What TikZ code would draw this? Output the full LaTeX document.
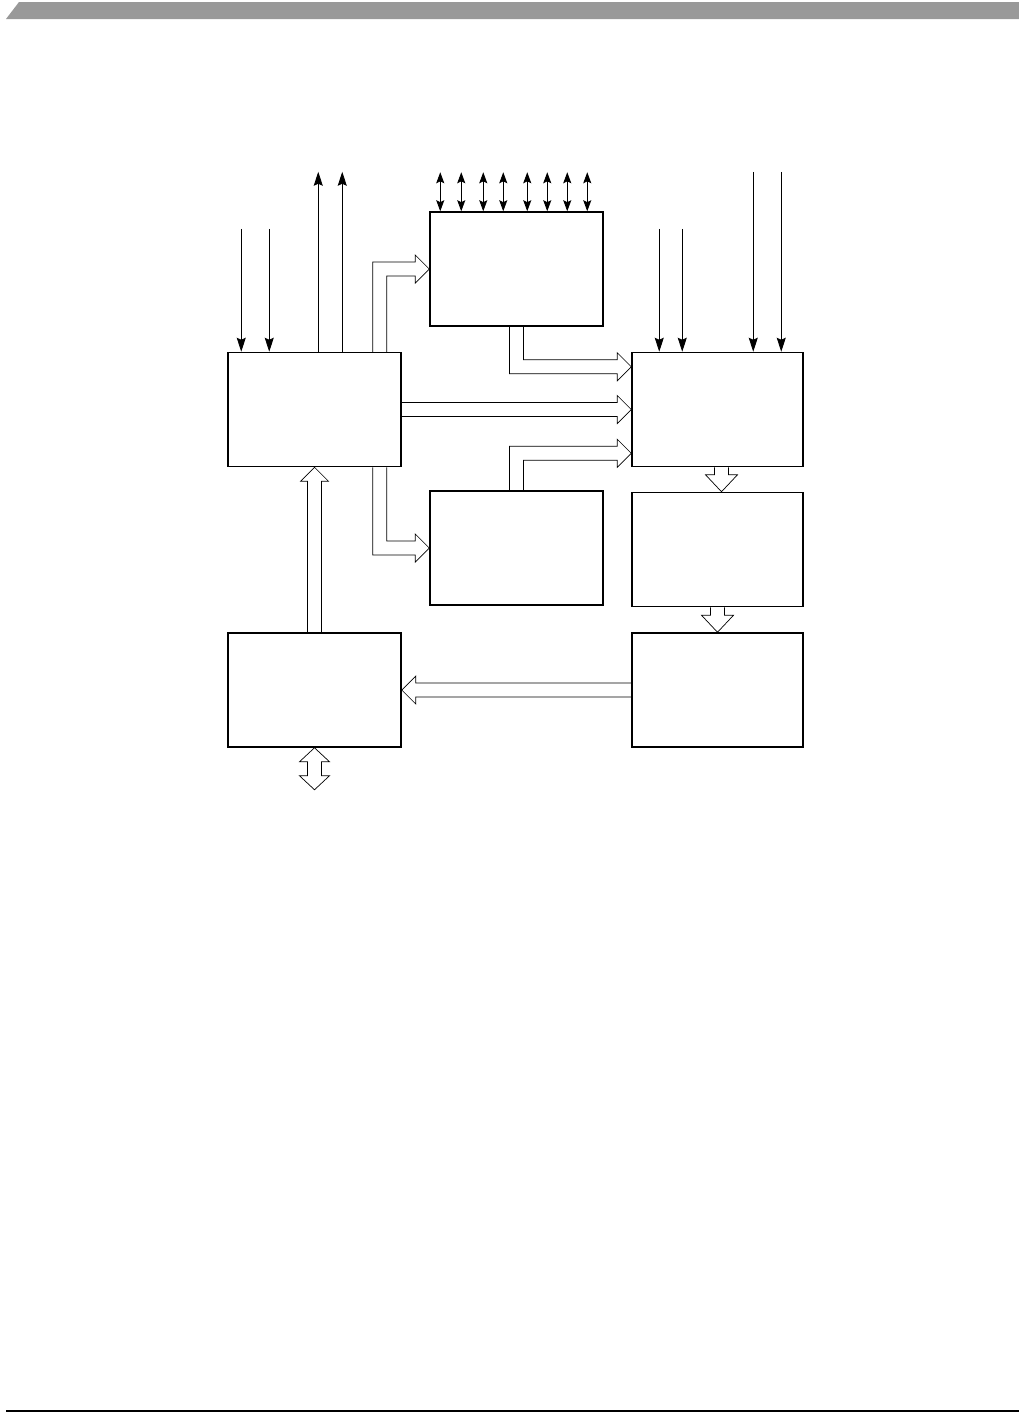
\documentclass[tikz,border=0pt]{standalone}
\usepackage{tikz}
\usetikzlibrary{
  arrows.meta,
  positioning,
  calc
}
\definecolor{header_gray}{RGB}{153, 153, 153}

\begin{document}
\begin{tikzpicture}[
    % Styles
    x=1pt, y=-1pt,
    line join=miter,
    % Blocks
    block/.style={
        rectangle,
        draw=black,
        fill=white,
        line width=1.5pt,
        minimum width=173pt,
        minimum height=114pt,
        inner sep=0pt
    },
    % Hollow bus arrows
    bus_arrow/.style={
        draw=black,
        line width=0.7pt
    },
    % Single signal lines
    sig_arrow/.style={
        line width=0.8pt,
        -{Stealth[length=14pt, width=9pt, inset=2pt]}
    },
    bidir_pin/.style={
        line width=0.8pt,
        {Stealth[length=11pt, width=8pt, inset=2pt]}-{Stealth[length=11pt, width=8pt, inset=2pt]}
    }
]
\useasboundingbox (0,0) rectangle (1019,1419);

% --- PAGE FRAME ---
\fill[header_gray] (6,19) -- (19,2) -- (1019,2) -- (1019,19) -- cycle;
\draw[line width=1.2pt] (6,1411) -- (1019,1411);

% --- LAYOUT ---

% 1. Main blocks (coordinates)
\node[block] (A) at (314.5, 409.5) {};
\node[block] (B) at (516.5, 269) {};
\node[block, minimum width=171pt] (C) at (717.5, 409.5) {};
\node[block] (D) at (516.5, 548) {};

% 2. Lower blocks (stacked)
\node[block, minimum width=171pt, below=24.5pt of C] (E) {};
\node[block, minimum width=171pt, below=25pt of E] (G) {};
\node[block, below=165pt of A] (F) {};

% --- SIGNALS ---

% Inputs into A
\coordinate (a_in1) at ($(A.north west)+(14,-123)$);
\coordinate (a_in2) at ($(A.north west)+(42,-123)$);
\draw[sig_arrow] (a_in1) -- (a_in1 |- A.north);
\draw[sig_arrow] (a_in2) -- (a_in2 |- A.north);

% Outputs from A
\coordinate (a_out1) at ($(A.north west)+(91,-180)$);
\coordinate (a_out2) at ($(A.north west)+(115,-180)$);
\draw[sig_arrow] (a_out1 |- A.north) -- (a_out1);
\draw[sig_arrow] (a_out2 |- A.north) -- (a_out2);

% Pins of B
\foreach \dx [count=\i] in {11,32,54,74,98,118,138,158} {
    \coordinate (b_pin\i) at ($(B.north west)+(\dx,-39)$);
    \draw[bidir_pin] (b_pin\i) -- (b_pin\i |- B.north);
}

% Inputs into C
\foreach \dx/\dy [count=\i] in {28/-123, 51/-123, 122/-180, 150/-180} {
    \coordinate (c_in\i) at ($(C.north west)+(\dx,\dy)$);
    \draw[sig_arrow] (c_in\i) -- (c_in\i |- C.north);
}

% --- BUSES ---

% A -> B
\draw[bus_arrow] ($(A.north east)+(-29,0)$) |- ($(B.west)+(-14,-7)$) -- ++(0,-7) -- (B.west)
    -- ++(-14,14) -- ++(0,-7) -| ($(A.north east)+(-15,0)$);

% B -> C
\draw[bus_arrow] ($(B.south)+(-7,0)$) |- ($(C.north west)+(-14,22)$) -- ++(0,7) -- ($(C.north west)+(0,15)$)
    -- ++(-14,-14) -- ++(0,7) -| ($(B.south)+(7,0)$);

% A -> C
\draw[bus_arrow] ($(A.east)+(0,-7)$) -- ($(C.west)+(-14,-7)$) -- ++(0,-7) -- (C.west)
    -- ++(-14,14) -- ++(0,-7) -- ($(A.east)+(0,7)$);

% D -> C
\draw[bus_arrow] ($(D.north)+(-7,0)$) |- ($(C.south west)+(-14,-21)$) -- ++(0,-7) -- ($(C.south west)+(0,-14)$)
    -- ++(-14,14) -- ++(0,-7) -| ($(D.north)+(7,0)$);

% A -> D
\draw[bus_arrow] ($(A.south east)+(-29,0)$) |- ($(D.west)+(-14,7)$) -- ++(0,7) -- (D.west)
    -- ++(-14,-14) -- ++(0,7) -| ($(A.south east)+(-15,0)$);

% F -> A
\draw[bus_arrow] ($(F.north)+(-7,0)$) -- ($(A.south)+(-7,14)$) -- ++(-7,0) -- (A.south)
    -- ++(14,14) -- ++(-7,0) -- ($(F.north)+(7,0)$);

% C -> E
\draw[bus_arrow] ($(C.south)+(-3,0)$) -- ($(E.north)+(-3,-17)$) -- ++(-9,0) -- ($(E.north)+(4,0)$)
    -- ++(16,-17) -- ++(-9,0) -- ($(C.south)+(11,0)$);

% E -> G
\draw[bus_arrow] ($(E.south)+(-7,0)$) -- ($(G.north)+(-7,-17)$) -- ++(-9,0) -- (G.north)
    -- ++(16,-17) -- ++(-9,0) -- ($(E.south)+(7,0)$);

% G -> F
\draw[bus_arrow] ($(G.west)+(0,-7)$) -- ($(F.east)+(14,-7)$) -- ++(0,-7) -- (F.east)
    -- ++(14,14) -- ++(0,-7) -- ($(G.west)+(0,7)$);

% F <-> outside
\coordinate (f_port) at ($(F.south)+(0,42)$);
\draw[bus_arrow] (F.south) -- ++(15,14) -- ++(-8,0) -- ++(0,14) -- ++(8,0) -- (f_port)
    -- ++(-15,-14) -- ++(8,0) -- ++(0,-14) -- ++(-8,0) -- cycle;

\end{tikzpicture}
\end{document}
